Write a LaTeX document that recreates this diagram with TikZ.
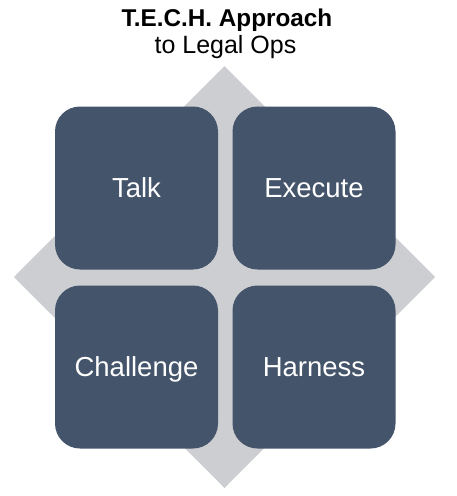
\documentclass[tikz,border=0pt]{standalone}
\usepackage{fontspec}
\setmainfont{Liberation Sans}
\definecolor{tile}{HTML}{44546A}
\definecolor{diam}{HTML}{CDCED2}
\begin{document}
\begin{tikzpicture}[x=1pt,y=-1pt,
  tilebox/.style={fill=tile,rounded corners=25pt,minimum width=163pt,minimum height=163pt,inner sep=0pt,text height=19pt,text depth=0pt,text=white,font=\fontsize{27.5}{32}\selectfont},
  titletext/.style={anchor=base,inner sep=0pt}]
\useasboundingbox (0,0) rectangle (456,496);
\fill[diam] (224.5,66) -- (435,277) -- (224.5,488) -- (14,277) -- cycle;
\node[tilebox] (talk) at (136.5,188) {Talk};
\node[tilebox] (execute) at (314,188) {Execute};
\node[tilebox] (challenge) at (136.5,367) {Challenge};
\node[tilebox] (harness) at (314,367) {Harness};
\node[titletext,font=\bfseries\fontsize{24.3}{28}\selectfont] (t1) at (227,26) {T.E.C.H. Approach};
\node[titletext,font=\fontsize{25}{28}\selectfont] (t2) at (225.5,53) {to Legal Ops};
\end{tikzpicture}
\end{document}
